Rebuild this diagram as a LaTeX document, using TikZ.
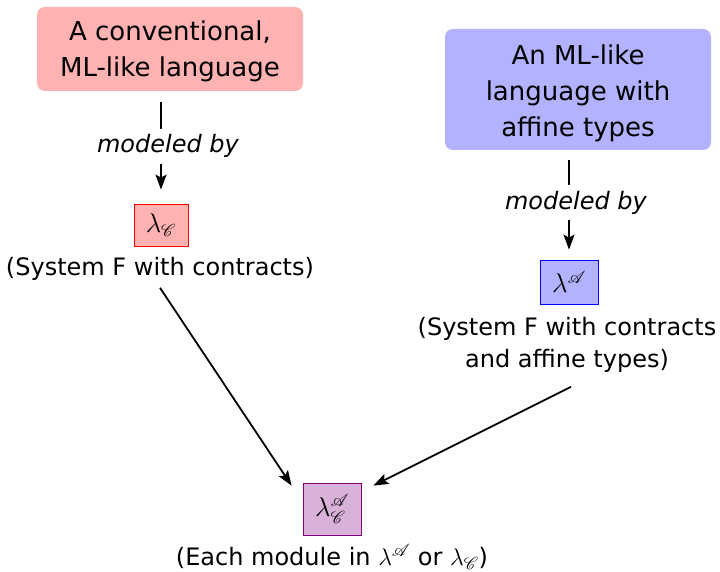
\RequirePackage{fix-cm}
\documentclass[tikz,border=0pt]{standalone}
\usepackage{fontspec}
\setmainfont{DejaVu Sans}
\usepackage{mathrsfs}
\usetikzlibrary{arrows.meta}
\newcommand{\lamC}{\lambda_{\mathscr{C}}}
\newcommand{\lamA}{\lambda^{\mathscr{A}}}
\newcommand{\lamAC}{\lambda^{\mathscr{A}}_{\mathscr{C}}}
\begin{document}
\begin{tikzpicture}[x=1pt,y=-1pt,
  every node/.style={font=\fontsize{24}{31}\selectfont},
  langbox/.style={rounded corners=8pt, inner sep=0pt},
  langtext/.style={align=center, inner sep=0pt, font=\fontsize{26}{36}\selectfont},
  calcbox/.style={draw, line width=0.8pt, inner sep=0pt, font=\fontsize{27}{31}\selectfont},
  caption/.style={align=center, inner sep=2pt},
  modeled/.style={fill=white, inner sep=6pt, font=\fontsize{24}{31}\selectfont\itshape},
  arr/.style={-{Stealth[length=15pt,width=11pt,inset=3pt]}, line width=1.5pt},
  arrlong/.style={-{Stealth[length=15pt,width=11pt,inset=3pt]}, line width=1.8pt}]
  \useasboundingbox (0,0) rectangle (720,572);

  % source languages
  \node[langbox, fill=red!30, minimum width=266pt, minimum height=84pt] (conv) at (170,49) {};
  \node[langtext] (convtext) at ([yshift=-2.5pt]conv.center) {A conventional,\\ML-like language};
  \node[langbox, fill=blue!30, minimum width=266pt, minimum height=121pt] (affine) at (578,89.5) {};
  \node[langtext] (affinetext) at ([yshift=-3.5pt]affine.center) {An ML-like\\language with\\affine types};

  % calculi
  \node[calcbox, draw=red, fill=red!30, minimum width=54pt, minimum height=42pt] (lc) at (161,225) {$\lamC$};
  \node[caption] (lccap) at (160,269) {(System F with contracts)};

  \node[calcbox, draw=blue, fill=blue!30, minimum width=58pt, minimum height=44pt] (la) at (569,282) {$\lamA$};
  \node[caption, font=\fontsize{24}{32}\selectfont] (lacap) at (567,345) {(System F with contracts\\and affine types)};

  \node[calcbox, draw=violet, fill=violet!30, minimum width=58pt, minimum height=52pt] (lac) at (332,509) {$\lamAC$};
  \node[caption] (laccap) at (332,557) {(Each module in $\lamA$ or $\lamC$)};

  % modeling arrows
  \draw[arr, shorten <=11pt, shorten >=14pt] (conv.south -| lc) --
    node[modeled, pos=0.49, xshift=7pt] {modeled by} (lc.north);
  \draw[arr, shorten <=10pt, shorten >=10pt] (affine.south -| la) --
    node[modeled, pos=0.48, xshift=7pt] {modeled by} (la.north);

  % embedding into the combined calculus
  \draw[arrlong] ([yshift=-5pt]lccap.south) -- ([xshift=-11pt,yshift=-3pt]lac.north west);
  \draw[arrlong] ([xshift=4pt,yshift=-12pt]lacap.south) -- ([xshift=12pt,yshift=-3pt]lac.north east);
\end{tikzpicture}
\end{document}
